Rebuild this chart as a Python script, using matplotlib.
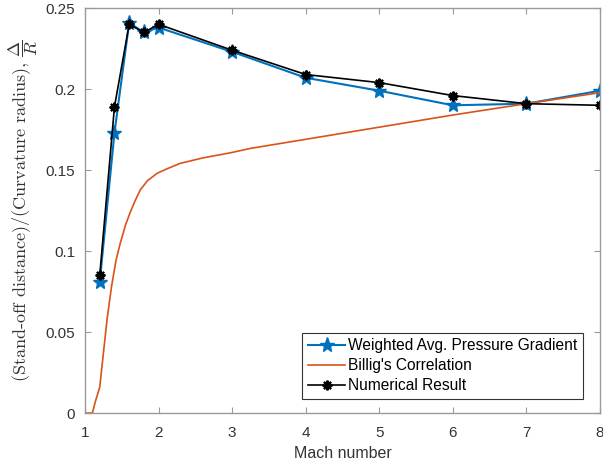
import numpy as np
import matplotlib.pyplot as plt

plt.rcParams["font.family"] = ["Liberation Sans", "DejaVu Sans"]
plt.rcParams["mathtext.fontset"] = "cm"

mach = [1.2, 1.4, 1.6, 1.8, 2, 3, 4, 5, 6, 7, 8]
weighted = [0.081, 0.173, 0.241, 0.235, 0.238, 0.223, 0.207, 0.199, 0.190, 0.191, 0.199]
numerical = [0.085, 0.189, 0.240, 0.235, 0.240, 0.224, 0.209, 0.204, 0.196, 0.191, 0.190]

# Billig's correlation
billig_m = [1.0, 1.1, 1.14, 1.2, 1.25, 1.3, 1.36, 1.42, 1.48, 1.55, 1.61, 1.68, 1.75,
            1.85, 1.98, 2.1, 2.29, 2.6, 2.98, 3.25, 4, 5, 6, 7, 8]
billig = [0.0, 0.0, 0.007, 0.016, 0.037, 0.058, 0.078, 0.094, 0.105, 0.116, 0.1234, 0.131,
          0.1377, 0.1435, 0.148, 0.1505, 0.1541, 0.1575, 0.1607, 0.1634, 0.169, 0.1765,
          0.184, 0.191, 0.1978]

blue = "#0072BD"
orange = "#D95319"

fig = plt.figure(figsize=(6.03, 4.67), dpi=100)
ax = fig.add_axes([0.141, 0.1156, 0.854, 0.867])

ax.plot(mach, weighted, color=blue, lw=1.5, marker="*", ms=11, mec=blue, mfc=blue,
        label="Weighted Avg. Pressure Gradient")
ax.plot(billig_m, billig, color=orange, lw=1.2, label="Billig's Correlation")
ax.plot(mach, numerical, color="black", lw=1.2, marker=(8, 2, 0), ms=7, mew=1.5,
        label="Numerical Result")

ax.set_xlim(1, 8)
ax.set_ylim(0, 0.25)
ax.set_xticks(range(1, 9))
ax.set_yticks([0, 0.05, 0.1, 0.15, 0.2, 0.25])
ax.set_yticklabels(["0", "0.05", "0.1", "0.15", "0.2", "0.25"])

for s in ax.spines.values():
    s.set_color("#9a9a9a")
    s.set_linewidth(1.0)
ax.tick_params(direction="in", top=True, right=True, length=4, width=0.8,
               color="#9a9a9a", labelcolor="#333333", labelsize=11)
ax.tick_params(axis="x", pad=9)
ax.tick_params(axis="y", pad=7)

ax.set_xlabel("Mach number", fontsize=11.5, color="#333333", labelpad=5)
ax.set_ylabel(r"(Stand-off distance)/(Curvature radius), $\dfrac{\Delta}{R}$",
              fontsize=13, family="cmr10", color="#333333", labelpad=4)

leg = ax.legend(loc="lower right", bbox_to_anchor=(0.967, 0.035), borderaxespad=0,
                fancybox=False, framealpha=1, edgecolor="#333333", fontsize=11.2,
                handlelength=2.4, borderpad=0.35, labelspacing=0.32, handletextpad=0.2)
leg.get_frame().set_linewidth(0.8)

fig.savefig("out.png", dpi=100)
